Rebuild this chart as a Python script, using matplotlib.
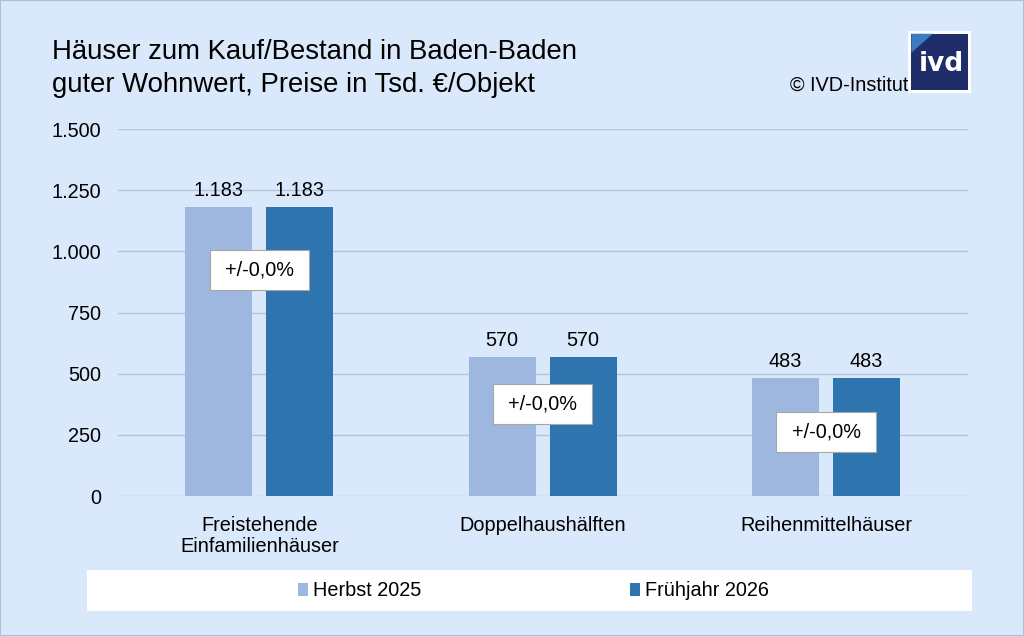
import numpy as np
import matplotlib.pyplot as plt
from matplotlib.patches import Rectangle, Polygon

plt.rcParams["font.family"] = ["Liberation Sans", "DejaVu Sans"]

categories = ["Freistehende\nEinfamilienhäuser", "Doppelhaushälften", "Reihenmittelhäuser"]
herbst_2025 = [1183, 570, 483]
fruehjahr_2026 = [1183, 570, 483]
value_labels = ["1.183", "570", "483"]
change_labels = ["+/-0,0%", "+/-0,0%", "+/-0,0%"]
change_ypos = [924, 376, 262]
yticks = [0, 250, 500, 750, 1000, 1250, 1500]
ytick_labels = ["0", "250", "500", "750", "1.000", "1.250", "1.500"]

BG = "#dae8fb"
C_LIGHT = "#9db7de"
C_DARK = "#2e75b0"
FS = 14.3

fig = plt.figure(figsize=(10.24, 6.36), dpi=100, facecolor=BG)
fig.patches.append(Rectangle((0, 0), 1, 1, transform=fig.transFigure,
                             fill=False, edgecolor="#a9bfdc", lw=1.5))

ax = fig.add_axes([0.115, 0.22, 0.83, 0.577])
ax.set_facecolor(BG)
x = np.arange(len(categories))
w = 0.237
off = 0.143
ax.bar(x - off, herbst_2025, w, color=C_LIGHT, label="Herbst 2025", zorder=2)
ax.bar(x + off, fruehjahr_2026, w, color=C_DARK, label="Frühjahr 2026", zorder=2)

for i in range(len(categories)):
    for xx, v in ((x[i] - off, herbst_2025[i]), (x[i] + off, fruehjahr_2026[i])):
        ax.text(xx, v + 28, value_labels[i], ha="center", va="bottom", fontsize=FS)
    # white label box with grey frame
    ax.add_patch(Rectangle((x[i] - 0.175, change_ypos[i] - 82), 0.35, 164,
                           fc="white", ec="#a6a6a6", lw=0.8, zorder=3))
    ax.text(x[i], change_ypos[i], change_labels[i], ha="center", va="center",
            fontsize=FS, zorder=4)

ax.set_xlim(-0.5, 2.5)
ax.set_ylim(0, 1500)
ax.set_yticks(yticks)
ax.set_yticklabels(ytick_labels, fontsize=FS)
ax.set_xticks(x)
ax.set_xticklabels(categories, fontsize=FS, linespacing=1.15)
ax.tick_params(length=0, pad=12)
ax.tick_params(axis="x", pad=14)
ax.grid(axis="y", color="#b4c5db", lw=1, zorder=0)
for s in ax.spines.values():
    s.set_visible(False)

# title
fig.text(0.051, 0.918, "Häuser zum Kauf/Bestand in Baden-Baden",
         fontsize=19.8, va="center")
fig.text(0.051, 0.867, "guter Wohnwert, Preise in Tsd. €/Objekt",
         fontsize=19.8, va="center")
fig.text(0.887, 0.866, "© IVD-Institut", fontsize=14.3, ha="right", va="center")

# ivd logo
lx0, ly0, lw_, lh = 0.887, 0.853, 0.061, 0.099
fig.patches.append(Rectangle((lx0, ly0), lw_, lh, transform=fig.transFigure,
                             fc="white", ec="none"))
fig.patches.append(Rectangle((lx0 + 0.003, ly0 + 0.005), lw_ - 0.006, lh - 0.01,
                             transform=fig.transFigure, fc="#1f2d6b", ec="none"))
fig.patches.append(Polygon([(lx0 + 0.003, ly0 + lh - 0.005),
                            (lx0 + 0.024, ly0 + lh - 0.005),
                            (lx0 + 0.003, ly0 + lh - 0.035)],
                           closed=True, transform=fig.transFigure,
                           fc="#3b7cc0", ec="none"))
fig.text(lx0 + lw_ / 2 + 0.002, ly0 + lh / 2 - 0.003, "ivd", color="white",
         fontsize=19, fontweight="bold", ha="center", va="center",
         family="DejaVu Sans")

# legend box
fig.patches.append(Rectangle((0.085, 0.039), 0.864, 0.064, transform=fig.transFigure,
                             fc="white", ec="none"))
handles, labels = ax.get_legend_handles_labels()
leg = fig.legend(handles, labels, loc="center", bbox_to_anchor=(0.521, 0.071),
                 ncol=2, frameon=False, fontsize=FS, handlelength=0.5,
                 handleheight=0.6, handletextpad=0.25, columnspacing=10.55)

fig.savefig("out.png", dpi=100, facecolor=BG)
